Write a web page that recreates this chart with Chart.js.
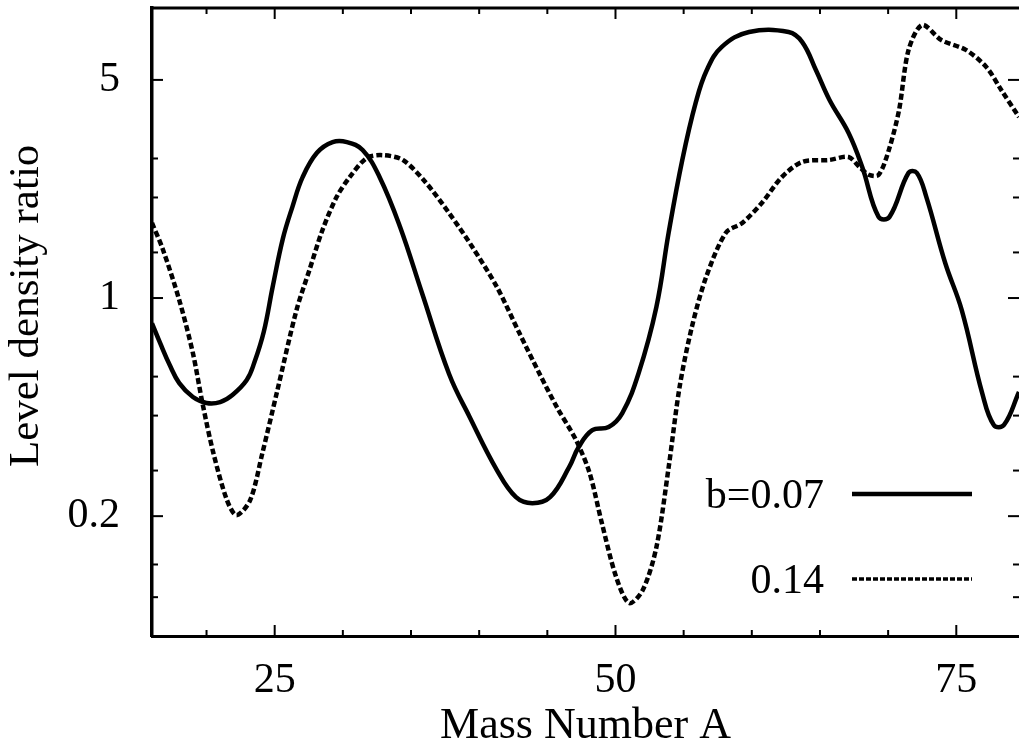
<!DOCTYPE html>
<html>
<head>
<meta charset="utf-8">
<title>Level density ratio vs mass number</title>
<script src="https://cdn.jsdelivr.net/npm/chart.js@4.4.1/dist/chart.umd.min.js"></script>
<style>
  html, body { margin: 0; padding: 0; background: #fff; }
  #wrap { width: 1019px; height: 748px; }
</style>
</head>
<body>
<div id="wrap"><canvas id="chart" width="1019" height="748"></canvas></div>
<script>
// ---- data ----
// b = 0.07 (solid)
const massA_b007 = [16.0, 16.6, 17.3, 18.0, 19.0, 20.0, 21.0, 21.9, 22.95, 23.5,
    24.2, 24.85, 25.6, 26.3, 27.05, 28.1, 29.25, 30.3, 31.45, 32.7,
    34.2, 35.8, 37.8, 39.3, 41.3, 42.7, 43.9, 45.2, 46.6, 47.3,
    48.3, 49.5, 50.5, 51.7, 53.0, 53.9, 54.9, 55.9, 56.7, 57.8,
    59.8, 62.7, 63.7, 64.7, 65.7, 67.1, 68.1, 69.3, 70.1, 71.5,
    72.1, 72.8, 74.2, 75.4, 76.9, 77.75, 78.5, 79.6];
const ratio_b007 = [0.83, 0.717, 0.61, 0.534, 0.482, 0.461, 0.464, 0.489, 0.546, 0.62,
    0.78, 1.085, 1.55, 1.96, 2.44, 2.92, 3.16, 3.16, 2.98, 2.44,
    1.69, 1.04, 0.57, 0.416, 0.281, 0.230, 0.220, 0.230, 0.287, 0.333,
    0.377, 0.386, 0.428, 0.575, 0.936, 1.62, 2.77, 4.25, 5.38, 6.38,
    7.12, 7.12, 6.61, 5.38, 4.31, 3.38, 2.63, 1.82, 1.82, 2.52,
    2.52, 2.11, 1.29, 0.915, 0.496, 0.392, 0.392, 0.50];

// b = 0.14 (dashed)
const massA_b014 = [16.0, 16.8, 18.0, 19.0, 19.7, 20.5, 21.5, 22.2, 23.2, 24.1,
    25.15, 26.6, 27.55, 28.5, 29.55, 30.5, 31.75, 32.9, 34.4, 36.1,
    37.8, 39.5, 41.3, 42.95, 44.4, 45.7, 47.1, 48.1, 49.0, 50.05,
    51.0, 52.0, 53.0, 53.9, 54.7, 55.6, 56.65, 58.1, 59.3, 60.75,
    62.2, 63.7, 65.7, 67.1, 67.9, 68.6, 69.3, 70.05, 70.8, 71.5,
    72.5, 73.9, 75.7, 77.2, 78.3, 79.6];
const ratio_b014 = [1.74, 1.43, 0.985, 0.666, 0.461, 0.319, 0.225, 0.2015, 0.225, 0.319,
    0.496, 0.915, 1.23, 1.65, 2.11, 2.44, 2.81, 2.87, 2.77, 2.34,
    1.87, 1.457, 1.085, 0.772, 0.575, 0.447, 0.351, 0.275, 0.190, 0.1276,
    0.1053, 0.1159, 0.159, 0.287, 0.518, 0.807, 1.168, 1.62, 1.74, 2.02,
    2.44, 2.73, 2.77, 2.83, 2.63, 2.48, 2.48, 2.98, 4.00, 6.24,
    7.50, 6.71, 6.24, 5.50, 4.64, 3.80];

// axis ticks
const xMajorTicks = [25, 50, 75];
const xMinorTicks = [20, 30, 35, 40, 45, 55, 60, 65, 70];
const yMajorTicks = [0.2, 1, 5];
const yMinorTicks = [2.8, 2.1, 1.4, 0.56, 0.42, 0.28, 0.14, 0.11];

const SERIF = '"Liberation Serif", "Times New Roman", serif';

function toPoints(xs, ys) {
    return xs.map((x, i) => ({ x: x, y: ys[i] }));
}

// inward ticks on all four sides + top frame line
const frameTicks = {
    id: 'frameTicks',
    afterDraw(chart) {
        const { ctx, chartArea: a, scales: { x, y } } = chart;
        ctx.save();
        ctx.strokeStyle = '#000';
        ctx.lineWidth = 3;
        ctx.beginPath();
        ctx.moveTo(a.left - 1.5, a.top);
        ctx.lineTo(a.right, a.top);
        ctx.stroke();

        ctx.lineWidth = 2;
        const tick = (x0, y0, x1, y1) => {
            ctx.beginPath();
            ctx.moveTo(x0, y0);
            ctx.lineTo(x1, y1);
            ctx.stroke();
        };
        xMajorTicks.forEach(v => {
            const px = x.getPixelForValue(v);
            tick(px, a.bottom, px, a.bottom - 11);
            tick(px, a.top, px, a.top + 11);
        });
        xMinorTicks.forEach(v => {
            const px = x.getPixelForValue(v);
            tick(px, a.bottom, px, a.bottom - 6);
            tick(px, a.top, px, a.top + 6);
        });
        yMajorTicks.forEach(v => {
            const py = y.getPixelForValue(v);
            tick(a.left, py, a.left + 11, py);
            tick(a.right, py, a.right - 11, py);
        });
        yMinorTicks.forEach(v => {
            const py = y.getPixelForValue(v);
            tick(a.left, py, a.left + 6, py);
            tick(a.right, py, a.right - 6, py);
        });
        ctx.restore();
    }
};

// legend drawn inside the plot, lower right
const insideLegend = {
    id: 'insideLegend',
    afterDraw(chart) {
        const { ctx, chartArea: a } = chart;
        const rows = [a.bottom - 142, a.bottom - 57];
        const x1 = a.right - 167, x2 = a.right - 47;
        ctx.save();
        ctx.font = '42px ' + SERIF;
        ctx.fillStyle = '#000';
        ctx.textAlign = 'right';
        ctx.textBaseline = 'middle';
        chart.data.datasets.forEach((ds, i) => {
            const yy = rows[i];
            ctx.fillText(ds.label, x1 - 28, yy + 3);
            ctx.strokeStyle = '#000';
            ctx.lineWidth = i === 0 ? 4.5 : 3.5;
            ctx.setLineDash(i === 0 ? [] : [5, 2]);
            ctx.beginPath();
            ctx.moveTo(x1, yy);
            ctx.lineTo(x2, yy);
            ctx.stroke();
        });
        ctx.restore();
    }
};

new Chart(document.getElementById('chart'), {
    type: 'scatter',
    data: {
        datasets: [
            {
                label: 'b=0.07',
                data: toPoints(massA_b007, ratio_b007),
                showLine: true,
                borderColor: '#000',
                borderWidth: 4.5,
                pointRadius: 0,
                tension: 0.4,
                borderJoinStyle: 'round'
            },
            {
                label: '0.14',
                data: toPoints(massA_b014, ratio_b014),
                showLine: true,
                borderColor: '#000',
                borderWidth: 4.5,
                borderDash: [6, 3],
                pointRadius: 0,
                tension: 0.3
            }
        ]
    },
    options: {
        responsive: false,
        animation: false,
        devicePixelRatio: 1,
        layout: { padding: { top: 8, right: 0, left: 0, bottom: 0 } },
        plugins: {
            legend: { display: false },
            tooltip: { enabled: false }
        },
        scales: {
            x: {
                type: 'linear',
                min: 16,
                max: 79.6,
                afterBuildTicks: s => { s.ticks = xMajorTicks.map(v => ({ value: v })); },
                afterFit: s => { s.height = 112; s.paddingLeft = 0; s.paddingRight = 0; },
                grid: { display: false, drawTicks: false },
                border: { display: true, color: '#000', width: 3 },
                ticks: {
                    color: '#000',
                    padding: 20,
                    maxRotation: 0,
                    font: { family: SERIF, size: 42 },
                    callback: v => String(v)
                },
                title: {
                    display: true,
                    text: 'Mass Number A',
                    color: '#000',
                    padding: { top: 0, bottom: 0 },
                    font: { family: SERIF, size: 44, lineHeight: 1 }
                }
            },
            y: {
                type: 'logarithmic',
                min: 0.0826,
                max: 8.5,
                afterBuildTicks: s => { s.ticks = yMajorTicks.map(v => ({ value: v })); },
                afterFit: s => { s.width = 152; s.paddingTop = 0; s.paddingBottom = 0; },
                grid: { display: false, drawTicks: false },
                border: { display: true, color: '#000', width: 3.5 },
                ticks: {
                    color: '#000',
                    padding: 32,
                    font: { family: SERIF, size: 42 },
                    callback: v => String(v)
                },
                title: {
                    display: true,
                    // leading spaces nudge the rotated title upward like the original
                    text: '\u2002 Level density ratio',
                    color: '#000',
                    padding: { top: 5, bottom: 0 },
                    font: { family: SERIF, size: 43, lineHeight: 1 }
                }
            }
        }
    },
    plugins: [frameTicks, insideLegend]
});
</script>
</body>
</html>
